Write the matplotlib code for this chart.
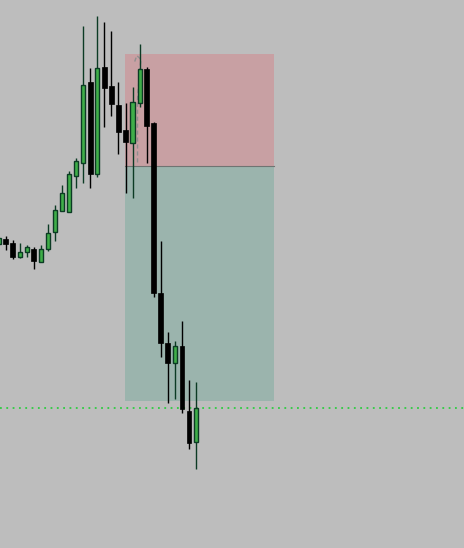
#!/usr/bin/env python3
# -*- coding: utf-8 -*-

import matplotlib
matplotlib.use('Agg')
import matplotlib.pyplot as plt
from matplotlib.patches import Rectangle

# ----- candles (price units) -----
opens = [304, 309, 305, 291, 296, 299, 286, 299, 316, 337, 336, 372, 385, 466, 374,
         481, 462, 443, 418, 405, 445, 479, 425, 255, 205, 185, 202, 137, 106]
highs = [312, 312, 308, 305, 303, 301, 303, 324, 343, 363, 377, 390, 522, 480, 532,
         526, 517, 466, 445, 461, 504, 481, 426, 307, 216, 207, 227, 168, 166]
lows = [302, 298, 289, 290, 291, 279, 286, 297, 307, 337, 336, 360, 365, 360, 371,
        421, 432, 394, 355, 350, 441, 385, 251, 191, 145, 149, 135, 99, 79]
closes = [310, 304, 291, 296, 301, 287, 299, 315, 338, 355, 374, 387, 463, 374, 480,
          460, 444, 416, 406, 446, 479, 422, 255, 205, 185, 202, 139, 105, 140]

# ----- position tool (short) -----
entry_bar, exit_bar = 17.94, 39.07
stop_price, entry_price, target_price = 494, 382, 147
level_price = 140

# faint dashed drawing near the entry bar
curve_x = [19.3, 19.6, 20.2, 20.0, 19.7, 19.7]
curve_y = [486, 492, 488, 478, 448, 384]

BG = '#bdbdbd'
UP_FILL = '#3fae49'
UP_EDGE = '#0c3b24'

fig = plt.figure(figsize=(4.645, 5.485), dpi=100)
fig.patch.set_facecolor(BG)
ax = fig.add_axes([0, 0, 1, 1])
ax.set_facecolor(BG)
ax.set_axis_off()

ax.add_patch(Rectangle((entry_bar, entry_price), exit_bar - entry_bar, stop_price - entry_price,
                       facecolor='#c8a0a3', edgecolor='none', zorder=1))
ax.add_patch(Rectangle((entry_bar, target_price), exit_bar - entry_bar, entry_price - target_price,
                       facecolor='#9bb4ad', edgecolor='none', zorder=1))
ax.plot([entry_bar, exit_bar], [entry_price, entry_price], color='#6f7472', lw=0.8, zorder=1.5)
ax.plot(curve_x, curve_y, color='#8f8f8f', lw=1, ls=(0, (3, 2)), zorder=1.6)

ax.axhline(level_price, color='#2ecc40', lw=1.3, ls=(0, (1, 2.5)), zorder=1.7)

for i, (o, h, l, c) in enumerate(zip(opens, highs, lows, closes)):
    up = c >= o
    wick = UP_EDGE if up else 'black'
    ax.vlines(i, l, h, color=wick, lw=1, zorder=2)
    lo, hi = min(o, c), max(o, c)
    if up:
        ax.bar(i, hi - lo, bottom=lo, width=0.6, color=UP_FILL,
               edgecolor=UP_EDGE, linewidth=1, zorder=3)
    else:
        ax.bar(i, hi - lo, bottom=lo, width=0.68, color='black',
               edgecolor='black', linewidth=0.5, zorder=3)

ax.set_xlim(0.213, 66.03)
ax.set_ylim(0, 548)

fig.savefig('out.png', dpi=100, facecolor=BG)
